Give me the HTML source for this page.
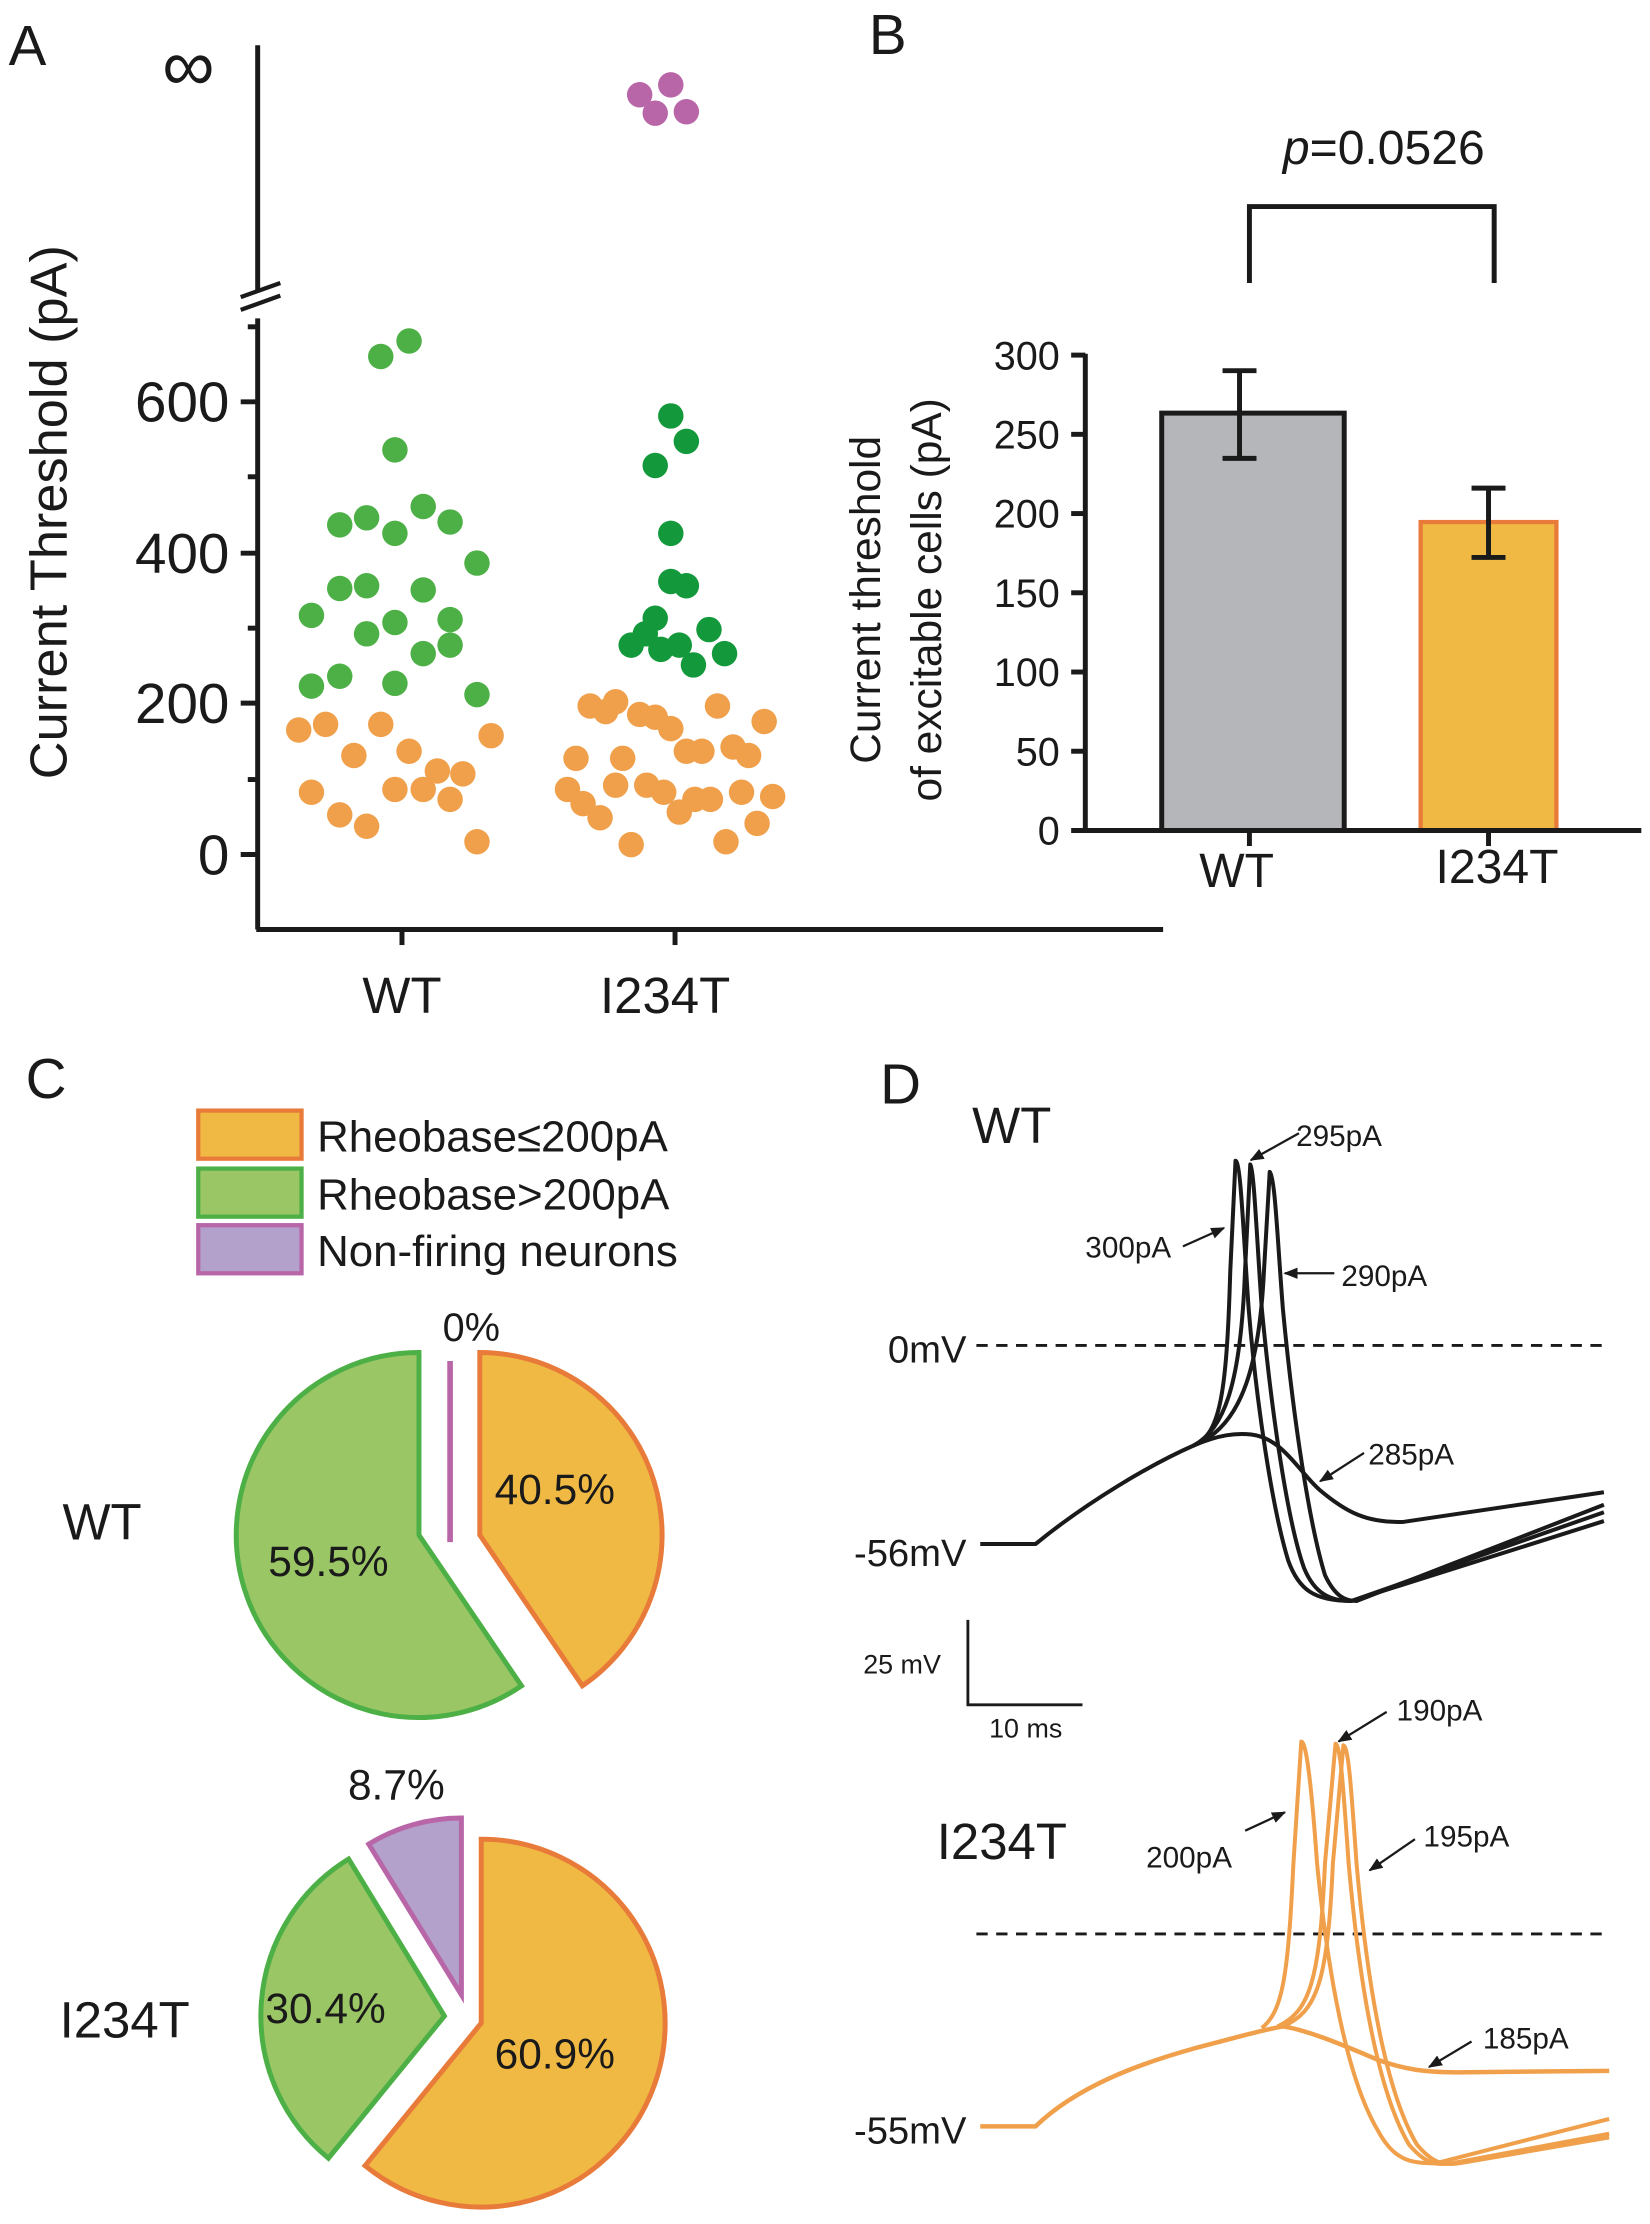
<!DOCTYPE html>
<html><head><meta charset="utf-8"><style>
html,body{margin:0;padding:0;background:#fff;}
svg{display:block;}
text{font-family:"Liberation Sans",Arial,sans-serif;fill:#1a1a1a;}
</style></head><body>
<svg width="1650" height="2224" viewBox="0 0 1166 1572" xmlns="http://www.w3.org/2000/svg">
<rect width="1166" height="1572" fill="#fff"/>
<text x="6" y="46" font-size="40">A</text>
<text x="614" y="38" font-size="40">B</text>
<text x="18" y="776" font-size="40">C</text>
<text x="622" y="780" font-size="40">D</text>

<g stroke="#1a1a1a" stroke-width="3.5" fill="none">
<line x1="182" y1="32" x2="182" y2="205"/>
<line x1="182" y1="225" x2="182" y2="657"/>
<line x1="181" y1="657" x2="822" y2="657"/>
<line x1="170" y1="210" x2="198" y2="200" stroke-width="3"/>
<line x1="170" y1="219" x2="198" y2="209" stroke-width="3"/>
<line x1="170" y1="604" x2="182" y2="604"/>
<line x1="170" y1="497" x2="182" y2="497"/>
<line x1="170" y1="391" x2="182" y2="391"/>
<line x1="170" y1="284" x2="182" y2="284"/>
<line x1="175" y1="551" x2="182" y2="551"/>
<line x1="175" y1="444" x2="182" y2="444"/>
<line x1="175" y1="337" x2="182" y2="337"/>
<line x1="175" y1="231" x2="182" y2="231"/>
<line x1="284" y1="657" x2="284" y2="668"/>
<line x1="477" y1="657" x2="477" y2="668"/>
</g>
<g font-size="40" text-anchor="end">
<text x="162" y="618">0</text>
<text x="162" y="511">200</text>
<text x="162" y="405">400</text>
<text x="162" y="298">600</text>
</g>
<text x="133" y="64" font-size="52" text-anchor="middle">∞</text>
<text x="284" y="716" font-size="36" text-anchor="middle">WT</text>
<text x="470" y="716" font-size="36" text-anchor="middle">I234T</text>
<text transform="translate(47,362) rotate(-90)" font-size="37" text-anchor="middle">Current Threshold (pA)</text>
<g fill="#4DB046">
<circle cx="269" cy="252" r="9"/><circle cx="289" cy="241" r="9"/><circle cx="279" cy="318" r="9"/>
<circle cx="240" cy="371" r="9"/><circle cx="259" cy="366" r="9"/><circle cx="279" cy="377" r="9"/>
<circle cx="299" cy="358" r="9"/><circle cx="318" cy="369" r="9"/><circle cx="337" cy="398" r="9"/>
<circle cx="220" cy="435" r="9"/><circle cx="240" cy="416" r="9"/><circle cx="259" cy="414" r="9"/>
<circle cx="279" cy="440" r="9"/><circle cx="299" cy="417" r="9"/><circle cx="318" cy="438" r="9"/>
<circle cx="259" cy="448" r="9"/><circle cx="299" cy="462" r="9"/><circle cx="318" cy="456" r="9"/>
<circle cx="220" cy="485" r="9"/><circle cx="240" cy="478" r="9"/><circle cx="279" cy="483" r="9"/>
<circle cx="337" cy="491" r="9"/>
</g>
<g fill="#F0A04B">
<circle cx="211" cy="516" r="9"/><circle cx="230" cy="512" r="9"/><circle cx="269" cy="512" r="9"/>
<circle cx="250" cy="534" r="9"/><circle cx="289" cy="531" r="9"/><circle cx="347" cy="520" r="9"/>
<circle cx="220" cy="560" r="9"/><circle cx="240" cy="576" r="9"/><circle cx="259" cy="584" r="9"/>
<circle cx="279" cy="558" r="9"/><circle cx="299" cy="558" r="9"/><circle cx="309" cy="545" r="9"/>
<circle cx="327" cy="547" r="9"/><circle cx="318" cy="565" r="9"/><circle cx="337" cy="595" r="9"/>
<circle cx="417" cy="499" r="9"/><circle cx="428" cy="503" r="9"/><circle cx="435" cy="496" r="9"/>
<circle cx="452" cy="505" r="9"/><circle cx="463" cy="507" r="9"/><circle cx="474" cy="515" r="9"/>
<circle cx="507" cy="499" r="9"/><circle cx="540" cy="510" r="9"/><circle cx="407" cy="536" r="9"/>
<circle cx="440" cy="536" r="9"/><circle cx="485" cy="531" r="9"/><circle cx="496" cy="531" r="9"/>
<circle cx="518" cy="528" r="9"/><circle cx="529" cy="534" r="9"/><circle cx="401" cy="558" r="9"/>
<circle cx="412" cy="568" r="9"/><circle cx="424" cy="578" r="9"/><circle cx="435" cy="555" r="9"/>
<circle cx="457" cy="555" r="9"/><circle cx="469" cy="560" r="9"/><circle cx="480" cy="574" r="9"/>
<circle cx="491" cy="565" r="9"/><circle cx="502" cy="565" r="9"/><circle cx="524" cy="560" r="9"/>
<circle cx="546" cy="563" r="9"/><circle cx="535" cy="582" r="9"/><circle cx="446" cy="597" r="9"/>
<circle cx="513" cy="595" r="9"/>
</g>
<g fill="#13993B">
<circle cx="474" cy="294" r="9"/><circle cx="485" cy="312" r="9"/><circle cx="463" cy="329" r="9"/>
<circle cx="474" cy="377" r="9"/><circle cx="474" cy="411" r="9"/><circle cx="485" cy="414" r="9"/>
<circle cx="463" cy="437" r="9"/><circle cx="456" cy="448" r="9"/><circle cx="446" cy="456" r="9"/>
<circle cx="467" cy="459" r="9"/><circle cx="480" cy="456" r="9"/><circle cx="501" cy="445" r="9"/>
<circle cx="490" cy="470" r="9"/><circle cx="512" cy="462" r="9"/>
</g>
<g fill="#B866A8">
<circle cx="452" cy="67" r="9"/><circle cx="474" cy="60" r="9"/><circle cx="463" cy="80" r="9"/><circle cx="485" cy="79" r="9"/>
</g>

<rect x="821" y="292" width="129" height="295" fill="#B5B6B9" stroke="#1a1a1a" stroke-width="3.5"/>
<rect x="1004" y="369" width="96" height="218" fill="#F0B944" stroke="#E87A3A" stroke-width="3"/>
<g stroke="#1a1a1a" stroke-width="3.5" fill="none">
<line x1="767" y1="250" x2="767" y2="588"/>
<line x1="757" y1="587" x2="1160" y2="587"/>
<line x1="757" y1="251" x2="767" y2="251"/><line x1="757" y1="307" x2="767" y2="307"/>
<line x1="757" y1="363" x2="767" y2="363"/><line x1="757" y1="419" x2="767" y2="419"/>
<line x1="757" y1="475" x2="767" y2="475"/><line x1="757" y1="531" x2="767" y2="531"/>
<line x1="883" y1="587" x2="883" y2="598"/><line x1="1052" y1="587" x2="1052" y2="598"/>
<line x1="876" y1="262" x2="876" y2="324"/><line x1="864" y1="262" x2="888" y2="262"/><line x1="864" y1="324" x2="888" y2="324"/>
<line x1="1052" y1="345" x2="1052" y2="394"/><line x1="1040" y1="345" x2="1064" y2="345"/><line x1="1040" y1="394" x2="1064" y2="394"/>
<polyline points="883,200 883,146 1056,146 1056,200"/>
</g>
<g font-size="28" text-anchor="end">
<text x="749" y="597">0</text><text x="749" y="541">50</text><text x="749" y="485">100</text>
<text x="749" y="429">150</text><text x="749" y="373">200</text><text x="749" y="317">250</text><text x="749" y="261">300</text>
</g>
<text x="874" y="627" font-size="34" text-anchor="middle">WT</text>
<text x="1058" y="624" font-size="34" text-anchor="middle">I234T</text>
<text x="978" y="116" font-size="34" text-anchor="middle"><tspan font-style="italic">p</tspan>=0.0526</text>
<text transform="translate(622,424) rotate(-90)" font-size="30" text-anchor="middle">Current threshold</text>
<text transform="translate(665,424) rotate(-90)" font-size="30" text-anchor="middle">of excitable cells (pA)</text>

<rect x="140" y="785" width="73" height="34" fill="#F0B944" stroke="#E87A3A" stroke-width="3"/>
<rect x="140" y="826" width="73" height="34" fill="#9AC665" stroke="#4DB046" stroke-width="3"/>
<rect x="140" y="866" width="73" height="34" fill="#B3A0CB" stroke="#B866A8" stroke-width="3"/>
<g font-size="31">
<text x="224" y="814">Rheobase≤200pA</text>
<text x="224" y="855">Rheobase&gt;200pA</text>
<text x="224" y="895">Non-firing neurons</text>
</g>
<path d="M339,1085 L339,956 A129,129 0 0 1 411.5,1191.6 Z" fill="#F0B944" stroke="#E87A3A" stroke-width="3.5"/>
<path d="M296,1085 L368.5,1191.6 A129,129 0 1 1 296,956 Z" fill="#9AC665" stroke="#4DB046" stroke-width="3.5"/>
<line x1="318" y1="962" x2="318" y2="1090" stroke="#B866A8" stroke-width="4"/>
<text x="333" y="948" font-size="28" text-anchor="middle">0%</text>
<text x="392" y="1063" font-size="30" text-anchor="middle">40.5%</text>
<text x="232" y="1114" font-size="30" text-anchor="middle">59.5%</text>
<text x="72" y="1088" font-size="36" text-anchor="middle">WT</text>
<path d="M340,1430 L340,1300 A130,130 0 1 1 257.9,1530.8 Z" fill="#F0B944" stroke="#E87A3A" stroke-width="3.5"/>
<path d="M314,1425 L232,1525.5 A130,130 0 0 1 246.3,1314 Z" fill="#9AC665" stroke="#4DB046" stroke-width="3.5"/>
<path d="M326,1410 L260.5,1303.5 A125,125 0 0 1 326,1285 Z" fill="#B3A0CB" stroke="#B866A8" stroke-width="3.5"/>
<text x="280" y="1272" font-size="30" text-anchor="middle">8.7%</text>
<text x="230" y="1430" font-size="30" text-anchor="middle">30.4%</text>
<text x="392" y="1462" font-size="30" text-anchor="middle">60.9%</text>
<text x="88" y="1440" font-size="36" text-anchor="middle">I234T</text>

<text x="715" y="808" font-size="36" text-anchor="middle">WT</text>
<text x="708" y="1314" font-size="36" text-anchor="middle">I234T</text>
<line x1="690" y1="951" x2="1132" y2="951" stroke="#1a1a1a" stroke-width="2" stroke-dasharray="8,6"/>
<line x1="690" y1="1367" x2="1132" y2="1367" stroke="#1a1a1a" stroke-width="2" stroke-dasharray="8,6"/>
<g font-size="27" text-anchor="end">
<text x="683" y="963">0mV</text>
<text x="683" y="1107">-56mV</text>
<text x="683" y="1515">-55mV</text>
</g>
<polyline points="684,1145 684,1205 765,1205" stroke="#1a1a1a" stroke-width="2" fill="none"/>
<text x="610" y="1183" font-size="19">25 mV</text>
<text x="699" y="1228" font-size="19">10 ms</text>

<g transform="translate(583,742) scale(0.372,0.523)" fill="none" stroke-linejoin="round">
<g stroke="#1a1a1a">
<path vector-effect="non-scaling-stroke" stroke-width="4" d="M295,668 L400,668 C500,610 620,560 700,535 C750,520 763,470 770,300 L780,150 C790,150 795,250 805,350 C820,480 850,620 880,690 C900,730 930,745 1000,745 L1480,625"/>
<path vector-effect="non-scaling-stroke" stroke-width="4" d="M700,535 C760,512 790,450 798,300 L808,155 C815,160 820,250 830,350 C850,500 880,640 910,700 C930,735 960,745 1000,745 L1480,637"/>
<path vector-effect="non-scaling-stroke" stroke-width="4" d="M720,528 C790,500 825,430 834,300 L845,165 C855,170 860,260 870,350 C890,500 920,640 950,710 C970,740 990,745 1010,745 L1480,615"/>
<path vector-effect="non-scaling-stroke" stroke-width="4" d="M700,535 C750,520 780,518 810,520 C870,525 900,570 940,595 C990,625 1030,640 1100,638 L1480,598"/>
</g>
<g stroke="#F0A04B">
<path vector-effect="non-scaling-stroke" stroke-width="4.5" d="M295,1455 L400,1455 C480,1400 600,1370 700,1350 C780,1335 830,1325 870,1320 C920,1325 1000,1350 1050,1365 C1100,1378 1140,1382 1200,1382 L1490,1380"/>
<path vector-effect="non-scaling-stroke" stroke-width="4" d="M830,1322 C870,1300 880,1250 890,1100 L905,935 C915,935 925,1000 935,1100 C960,1280 1000,1400 1050,1460 C1080,1500 1110,1505 1160,1505 L1490,1445"/>
<path vector-effect="non-scaling-stroke" stroke-width="4" d="M860,1320 C920,1300 940,1260 950,1100 L970,938 C980,940 985,1000 995,1100 C1020,1300 1060,1420 1110,1480 C1140,1505 1160,1508 1190,1505 L1490,1465"/>
<path vector-effect="non-scaling-stroke" stroke-width="4" d="M870,1320 C935,1300 955,1260 965,1100 L985,940 C995,942 1000,1000 1010,1100 C1035,1300 1075,1420 1125,1480 C1155,1505 1175,1508 1205,1505 L1490,1470"/>
</g>
</g>
<defs><marker id="ah" markerWidth="10" markerHeight="8" refX="9" refY="4" orient="auto" markerUnits="userSpaceOnUse"><path d="M0,0 L10,4 L0,8 Z" fill="#1a1a1a"/></marker></defs>
<g stroke="#1a1a1a" stroke-width="1.6" marker-end="url(#ah)">
<line x1="918" y1="801" x2="884" y2="820"/>
<line x1="836" y1="881" x2="865" y2="868"/>
<line x1="943" y1="900" x2="908" y2="900"/>
<line x1="964" y1="1027" x2="933" y2="1047"/>
<line x1="980" y1="1210" x2="946" y2="1231"/>
<line x1="880" y1="1294" x2="908" y2="1281"/>
<line x1="1000" y1="1300" x2="968" y2="1322"/>
<line x1="1040" y1="1443" x2="1010" y2="1461"/>
</g>
<g font-size="21">
<text x="916" y="810">295pA</text>
<text x="767" y="889">300pA</text>
<text x="948" y="909">290pA</text>
<text x="967" y="1035">285pA</text>
<text x="987" y="1216">190pA</text>
<text x="810" y="1320">200pA</text>
<text x="1006" y="1305">195pA</text>
<text x="1048" y="1448">185pA</text>
</g>
</svg>
</body></html>
